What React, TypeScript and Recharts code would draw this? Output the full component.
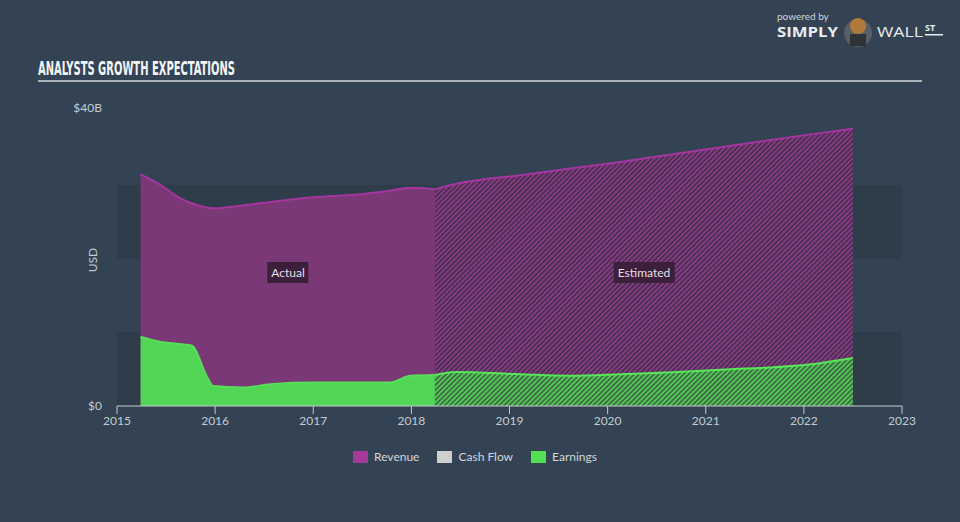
import React from 'react';
import { AreaChart, Area, XAxis, YAxis, CartesianGrid } from 'recharts';

// fractional years
const dates = [
  2015.24, 2015.44, 2015.64, 2015.76, 2015.92, 2015.98, 2016.28, 2016.59, 2017.0,
  2017.48, 2017.78, 2017.99, 2018.24, 2018.45, 2019.11, 2019.62, 2020.13, 2021.15,
  2022.16, 2022.5,
];
// USD billions
const revenue = [
  31.4, 30.0, 28.2, 27.5, 26.9, 26.8, 27.2, 27.7, 28.3, 28.7, 29.2, 29.6, 29.4, 30.1,
  31.3, 32.2, 33.1, 35.1, 37.0, 37.6,
];
const earnings = [
  9.4, 8.7, 8.4, 8.2, 3.9, 2.7, 2.5, 3.0, 3.2, 3.2, 3.2, 4.1, 4.2, 4.6, 4.3, 4.1, 4.3,
  4.9, 5.8, 6.5,
];
const lastActual = 2018.24;
const yearTicks = [2015, 2016, 2017, 2018, 2019, 2020, 2021, 2022, 2023];
const usdTicks = [0, 10, 20, 30, 40];

const rows = dates.map((d, i) => ({
  date: d,
  revActual: d <= lastActual ? revenue[i] : null,
  revEst: d >= lastActual ? revenue[i] : null,
  earnActual: d <= lastActual ? earnings[i] : null,
  earnEst: d >= lastActual ? earnings[i] : null,
}));

const BG = '#334353';
const BAND = '#2f3d4b';
const AXIS = '#c5cbd2';

const usdLabel = (v: number) => (v === 0 ? '$0' : v === 40 ? '$40B' : '');

const UsdTick = ({ x, y, payload }: any) => (
  <text
    x={x}
    y={payload.value === 40 ? y - 3 : y}
    dy="0.355em"
    textAnchor="end"
    fill={AXIS}
    fontSize={12}
  >
    {usdLabel(payload.value)}
  </text>
);

const Tag = ({ x, text }: { x: number; text: string }) => (
  <div
    style={{
      position: 'absolute',
      left: x,
      top: 262,
      transform: 'translateX(-50%)',
      background: '#3b1f3b',
      color: '#e6dfe6',
      fontSize: 12,
      padding: '3px 4px',
      lineHeight: '15px',
    }}
  >
    {text}
  </div>
);

const LegendItem = ({ color, text }: { color: string; text: string }) => (
  <div style={{ display: 'flex', alignItems: 'center', marginRight: 18 }}>
    <div style={{ width: 15, height: 12, background: color, marginRight: 6 }} />
    <span style={{ color: '#d2d6da', fontSize: 12 }}>{text}</span>
  </div>
);

export default function App() {
  return (
    <div
      style={{
        position: 'absolute',
        left: 0,
        top: 0,
        width: 960,
        height: 522,
        background: BG,
        overflow: 'hidden',
        fontFamily: 'Lato, sans-serif',
      }}
    >
      <AreaChart
        width={960}
        height={522}
        data={rows}
        margin={{ top: 111, right: 58, left: 57, bottom: 86 }}
      >
        <defs>
          <pattern id="hatchRev" width="3.5" height="3.5" patternUnits="userSpaceOnUse" patternTransform="rotate(45)">
            <rect width="3.5" height="3.5" fill="#4a3050" />
            <rect width="1.75" height="3.5" fill="#883a85" />
          </pattern>
          <pattern id="hatchEarn" width="3.5" height="3.5" patternUnits="userSpaceOnUse" patternTransform="rotate(45)">
            <rect width="3.5" height="3.5" fill="#42684a" />
            <rect width="1.75" height="3.5" fill="#4fcd50" />
          </pattern>
        </defs>
        <CartesianGrid
          vertical={false}
          stroke="transparent"
          horizontalFill={['transparent', BAND, 'transparent', BAND]}
          fillOpacity={1}
        />
        <XAxis
          type="number"
          dataKey="date"
          domain={[2015, 2023]}
          ticks={yearTicks}
          allowDataOverflow
          height={30}
          stroke={AXIS}
          tickSize={8}
          tick={{ fill: AXIS, fontSize: 12 }}
        />
        <YAxis
          domain={[0, 40]}
          ticks={usdTicks}
          width={60}
          axisLine={false}
          tickLine={false}
          tickSize={0}
          tickMargin={15}
          tick={<UsdTick />}
        />
        <Area
          type="monotone"
          dataKey="revActual"
          stroke="#a5369f"
          strokeWidth={2}
          fill="#7a3876"
          fillOpacity={1}
          dot={false}
          activeDot={false}
          isAnimationActive={false}
        />
        <Area
          type="monotone"
          dataKey="revEst"
          stroke="#a5369f"
          strokeWidth={2}
          fill="url(#hatchRev)"
          fillOpacity={1}
          dot={false}
          activeDot={false}
          isAnimationActive={false}
        />
        <Area
          type="monotone"
          dataKey="earnActual"
          stroke="#58df59"
          strokeWidth={2}
          fill="#52d655"
          fillOpacity={1}
          dot={false}
          activeDot={false}
          isAnimationActive={false}
        />
        <Area
          type="monotone"
          dataKey="earnEst"
          stroke="#58e659"
          strokeWidth={2}
          fill="url(#hatchEarn)"
          fillOpacity={1}
          dot={false}
          activeDot={false}
          isAnimationActive={false}
        />
      </AreaChart>

      <svg
        width={960}
        height={522}
        style={{ position: 'absolute', left: 0, top: 0, pointerEvents: 'none' }}
      >
        <text
          x={38}
          y={75}
          textLength={197}
          lengthAdjust="spacingAndGlyphs"
          fill="#f4f5f6"
          fontFamily="'DejaVu Sans Condensed', 'DejaVu Sans', sans-serif"
          fontWeight="bold"
          fontSize={19}
        >
          ANALYSTS GROWTH EXPECTATIONS
        </text>
        <rect x={38} y={80} width={884} height={2} fill="#a9b1b9" />
        <text
          x={97}
          y={260}
          transform="rotate(-90 97 260)"
          textAnchor="middle"
          fill={AXIS}
          fontSize={12}
          fontFamily="Lato, sans-serif"
        >
          USD
        </text>
        {/* logo */}
        <text x={777} y={20} fill="#cfd4d9" fontSize={10} fontFamily="Lato, sans-serif">
          powered by
        </text>
        <text x={777} y={37} fill="#e9ecef" fontSize={15} fontWeight="bold" fontFamily="'Open Sans', sans-serif" textLength={61} lengthAdjust="spacingAndGlyphs">
          SIMPLY
        </text>
        <circle cx={858} cy={33} r={14} fill="#5a5f66" />
        <circle cx={858} cy={26} r={8} fill="#b07a3a" />
        <rect x={850} y={34} width={16} height={12} fill="#2e3338" />
        <text x={877} y={37} fill="#e9ecef" fontSize={15} fontFamily="'Open Sans', sans-serif" textLength={46} lengthAdjust="spacingAndGlyphs">
          WALL
        </text>
        <text x={925} y={31} fill="#e9ecef" fontSize={9} fontWeight="bold" fontFamily="'Open Sans', sans-serif">
          ST
        </text>
        <rect x={925} y={34} width={18} height={1.5} fill="#e9ecef" />
      </svg>

      <Tag x={288} text="Actual" />
      <Tag x={644} text="Estimated" />

      <div
        style={{
          position: 'absolute',
          left: 0,
          width: 960,
          top: 449,
          display: 'flex',
          justifyContent: 'center',
          paddingLeft: 8,
          boxSizing: 'border-box',
        }}
      >
        <LegendItem color="#a43a9c" text="Revenue" />
        <LegendItem color="#cfcfcf" text="Cash Flow" />
        <LegendItem color="#52e052" text="Earnings" />
      </div>
    </div>
  );
}
